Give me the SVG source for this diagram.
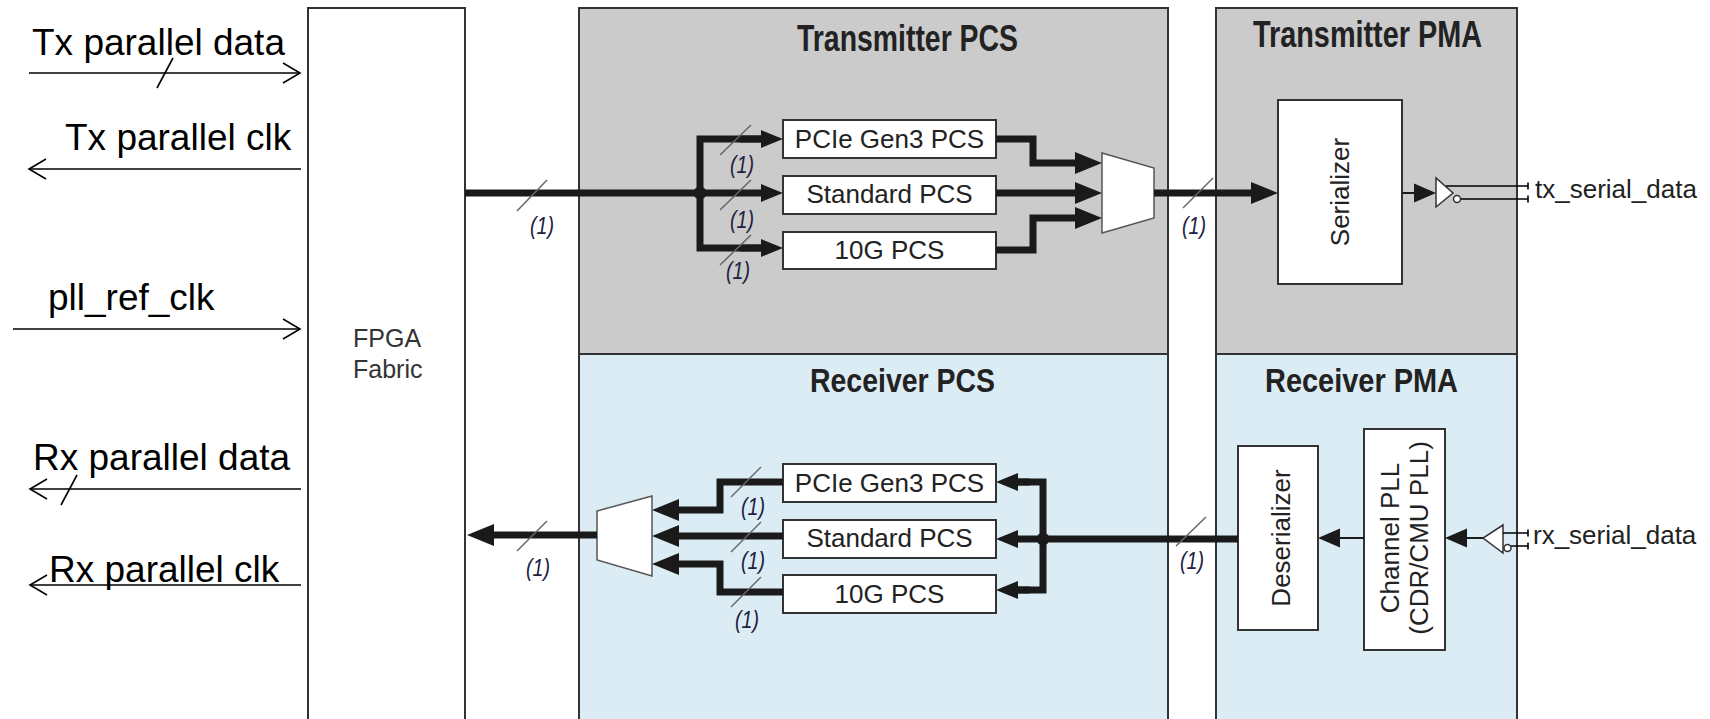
<svg xmlns="http://www.w3.org/2000/svg" width="1710" height="719" viewBox="0 0 1710 719">
<style>
.region{stroke:#333;stroke-width:2}
.tx{fill:#cbcbcb}
.rx{fill:#dcecf4}
.box{fill:#fff;stroke:#333;stroke-width:2}
.mux{fill:#fff;stroke:#555;stroke-width:1.5}
.title{font-family:"Liberation Sans",Arial,sans-serif;font-weight:bold;fill:#222}
.lbl{font-family:"Liberation Sans",Arial,sans-serif;font-size:26px;fill:#222}
.sig{font-family:"Liberation Sans",Arial,sans-serif;font-size:37px;fill:#000}
.ser{font-family:"Liberation Sans",Arial,sans-serif;font-size:26px;fill:#222}
.one{font-family:"Liberation Sans",Arial,sans-serif;font-size:24px;font-style:italic;fill:#202040}
.bus{fill:none;stroke:#1a1a1a;stroke-width:7}
.thin{fill:none;stroke:#1a1a1a;stroke-width:2}
.wire{fill:none;stroke:#000;stroke-width:1.6}
.slash{stroke:#666;stroke-width:1.5}
</style>
<defs>
<marker id="big" markerUnits="userSpaceOnUse" viewBox="0 0 27 22" refX="0" refY="11" markerWidth="27" markerHeight="22" orient="auto" overflow="visible"><path d="M0,0 L27,11 L0,22 z" fill="#1a1a1a"/></marker>
<marker id="med" markerUnits="userSpaceOnUse" viewBox="0 0 22 18" refX="0" refY="9" markerWidth="22" markerHeight="18" orient="auto" overflow="visible"><path d="M0,0 L22,9 L0,18 z" fill="#1a1a1a"/></marker>
<marker id="sm" markerUnits="userSpaceOnUse" viewBox="0 0 22 19" refX="0" refY="9.5" markerWidth="22" markerHeight="19" orient="auto" overflow="visible"><path d="M0,0 L22,9.5 L0,19 z" fill="#1a1a1a"/></marker>
<marker id="open" markerUnits="userSpaceOnUse" viewBox="0 0 18 22" refX="17" refY="11" markerWidth="18" markerHeight="22" orient="auto" overflow="visible"><path d="M0,1 L17,11 L0,21" fill="none" stroke="#000" stroke-width="1.6"/></marker>
</defs>

<g id="regions">
<rect id="tx-pcs" class="region tx" x="579" y="8" width="589" height="346"/>
<rect id="tx-pma" class="region tx" x="1216" y="8" width="301" height="346"/>
<rect id="rx-pcs" class="region rx" x="579" y="354" width="589" height="390"/>
<rect id="rx-pma" class="region rx" x="1216" y="354" width="301" height="390"/>
<text class="title" x="797" y="51" font-size="36" textLength="221" lengthAdjust="spacingAndGlyphs">Transmitter PCS</text>
<text class="title" x="1253" y="47" font-size="36" textLength="229" lengthAdjust="spacingAndGlyphs">Transmitter PMA</text>
<text class="title" x="810" y="392" font-size="33" textLength="185" lengthAdjust="spacingAndGlyphs">Receiver PCS</text>
<text class="title" x="1265" y="392" font-size="33" textLength="193" lengthAdjust="spacingAndGlyphs">Receiver PMA</text>
</g>

<g id="fpga">
<rect x="308" y="8" width="157" height="740" fill="#fff" stroke="#333" stroke-width="2"/>
<text x="353" y="347" font-family="Liberation Sans, Arial, sans-serif" font-size="25" fill="#333">FPGA</text>
<text x="353" y="378" font-family="Liberation Sans, Arial, sans-serif" font-size="25" fill="#333">Fabric</text>
</g>

<g id="tx-pcie"><rect class="box" x="783" y="120" width="213" height="38"/><text class="lbl" x="889.5" y="148" text-anchor="middle">PCIe Gen3 PCS</text></g>
<g id="tx-std"><rect class="box" x="783" y="176" width="213" height="38"/><text class="lbl" x="889.5" y="203" text-anchor="middle">Standard PCS</text></g>
<g id="tx-10g"><rect class="box" x="783" y="232" width="213" height="37"/><text class="lbl" x="889.5" y="259" text-anchor="middle">10G PCS</text></g>
<g id="rx-pcie"><rect class="box" x="783" y="464" width="213" height="38"/><text class="lbl" x="889.5" y="492" text-anchor="middle">PCIe Gen3 PCS</text></g>
<g id="rx-std"><rect class="box" x="783" y="520" width="213" height="38"/><text class="lbl" x="889.5" y="547" text-anchor="middle">Standard PCS</text></g>
<g id="rx-10g"><rect class="box" x="783" y="575" width="213" height="38"/><text class="lbl" x="889.5" y="603" text-anchor="middle">10G PCS</text></g>

<g id="tx-mux"><polygon class="mux" points="1102,153 1154,168 1154,218 1102,233"/></g>
<g id="rx-mux"><polygon class="mux" points="652,496 597,511 597,560 652,576"/></g>

<g id="serializer"><rect class="box" x="1278" y="100" width="124" height="184"/><text class="ser" transform="translate(1349,192) rotate(-90)" text-anchor="middle">Serializer</text></g>
<g id="deserializer"><rect class="box" x="1238" y="446" width="80" height="184"/><text class="ser" transform="translate(1290,538) rotate(-90)" text-anchor="middle">Deserializer</text></g>
<g id="channel-pll"><rect class="box" x="1364" y="429" width="81" height="221"/><text class="ser" font-size="21" transform="translate(1399,538) rotate(-90)" text-anchor="middle">Channel PLL</text><text class="ser" font-size="21" transform="translate(1428,538) rotate(-90)" text-anchor="middle">(CDR/CMU PLL)</text></g>

<g id="tx-buffer">
<polygon points="1436,178 1436,207 1453,193" fill="#fff" stroke="#333" stroke-width="1.5"/>
<circle cx="1457" cy="199" r="3.5" fill="#fff" stroke="#333" stroke-width="1.5"/>
</g>
<g id="rx-buffer">
<polygon points="1503,525 1503,553 1483,538" fill="#fff" stroke="#333" stroke-width="1.5"/>
<circle cx="1507.5" cy="548" r="3.5" fill="#fff" stroke="#333" stroke-width="1.5"/>
</g>

<g id="signals">
<text class="sig" x="32" y="55">Tx parallel data</text>
<text class="sig" x="65" y="150">Tx parallel clk</text>
<text class="sig" x="48" y="310">pll_ref_clk</text>
<text class="sig" x="33" y="470">Rx parallel data</text>
<text class="sig" x="49" y="582">Rx parallel clk</text>
<text x="1535" y="198" font-family="Liberation Sans, Arial, sans-serif" font-size="26" fill="#222">tx_serial_data</text>
<text x="1533" y="544" font-family="Liberation Sans, Arial, sans-serif" font-size="26" fill="#222">rx_serial_data</text>
</g>

<g id="connectors">
<path class="wire" d="M29,73 H300" marker-end="url(#open)"/>
<line class="wire" x1="173" y1="58" x2="157" y2="88"/>
<path class="wire" d="M301,169 H29" marker-end="url(#open)"/>
<path class="wire" d="M13,329 H300" marker-end="url(#open)"/>
<path class="wire" d="M301,489 H30" marker-end="url(#open)"/>
<line class="wire" x1="77" y1="475" x2="61" y2="505"/>
<path class="wire" d="M301,585 H30" marker-end="url(#open)"/>

<path class="bus" d="M465,193 H761" marker-end="url(#med)"/>
<path class="bus" d="M761,139 H700 V248 H761" stroke-linejoin="miter"/>
<path class="bus" d="M740,139 H761" marker-end="url(#med)"/>
<path class="bus" d="M740,248 H761" marker-end="url(#med)"/>
<circle cx="700" cy="193" r="6.5" fill="#1a1a1a"/>

<path class="bus" d="M996,139 H1033 V163 H1075" stroke-linejoin="miter" marker-end="url(#big)"/>
<path class="bus" d="M996,193 H1075" marker-end="url(#big)"/>
<path class="bus" d="M996,250 H1033 V218 H1075" stroke-linejoin="miter" marker-end="url(#big)"/>
<path class="bus" d="M1154,193 H1251" marker-end="url(#big)"/>
<path class="thin" d="M1402,193 H1414" marker-end="url(#sm)"/>
<path class="wire" d="M1446,186 H1528 M1461,199 H1528 M1528,182.5 V189.5 M1528,195.5 V202.5" stroke-width="1.5"/>

<path class="bus" d="M1238,539 H1018" marker-end="url(#med)"/>
<path class="bus" d="M1018,482 H1043 V590 H1018" stroke-linejoin="miter"/>
<path class="bus" d="M1030,482 H1018" marker-end="url(#med)"/>
<path class="bus" d="M1030,590 H1018" marker-end="url(#med)"/>
<circle cx="1043" cy="539" r="6.5" fill="#1a1a1a"/>

<path class="bus" d="M783,482 H720 V510 H679" stroke-linejoin="miter" marker-end="url(#big)"/>
<path class="bus" d="M783,536 H679" marker-end="url(#big)"/>
<path class="bus" d="M783,592 H720 V564 H679" stroke-linejoin="miter" marker-end="url(#big)"/>
<path class="bus" d="M597,535 H494" marker-end="url(#big)"/>

<path class="thin" d="M1364,538 H1340" marker-end="url(#sm)"/>
<path class="thin" d="M1483,538 H1467" marker-end="url(#sm)"/>
<path class="wire" d="M1503,533 H1528 M1511,546 H1528 M1528,529.5 V536.5 M1528,542.5 V549.5" stroke-width="1.5"/>

<g class="slash">
<line x1="547" y1="180" x2="517" y2="211"/>
<line x1="751" y1="125" x2="720" y2="155"/>
<line x1="751" y1="180" x2="720" y2="210"/>
<line x1="751" y1="235" x2="720" y2="265"/>
<line x1="1213" y1="178" x2="1183" y2="208"/>
<line x1="1206" y1="517" x2="1176" y2="546"/>
<line x1="547" y1="521" x2="517" y2="551"/>
<line x1="761" y1="467" x2="731" y2="497"/>
<line x1="761" y1="522" x2="731" y2="552"/>
<line x1="761" y1="577" x2="731" y2="607"/>
</g>
<g class="one">
<text x="530" y="234" textLength="24" lengthAdjust="spacingAndGlyphs">(1)</text>
<text x="730" y="173" textLength="24" lengthAdjust="spacingAndGlyphs">(1)</text>
<text x="730" y="228" textLength="24" lengthAdjust="spacingAndGlyphs">(1)</text>
<text x="726" y="279" textLength="24" lengthAdjust="spacingAndGlyphs">(1)</text>
<text x="1182" y="234" textLength="24" lengthAdjust="spacingAndGlyphs">(1)</text>
<text x="1180" y="569" textLength="24" lengthAdjust="spacingAndGlyphs">(1)</text>
<text x="526" y="576" textLength="24" lengthAdjust="spacingAndGlyphs">(1)</text>
<text x="741" y="515" textLength="24" lengthAdjust="spacingAndGlyphs">(1)</text>
<text x="741" y="569" textLength="24" lengthAdjust="spacingAndGlyphs">(1)</text>
<text x="735" y="628" textLength="24" lengthAdjust="spacingAndGlyphs">(1)</text>
</g>
</g>
</svg>
